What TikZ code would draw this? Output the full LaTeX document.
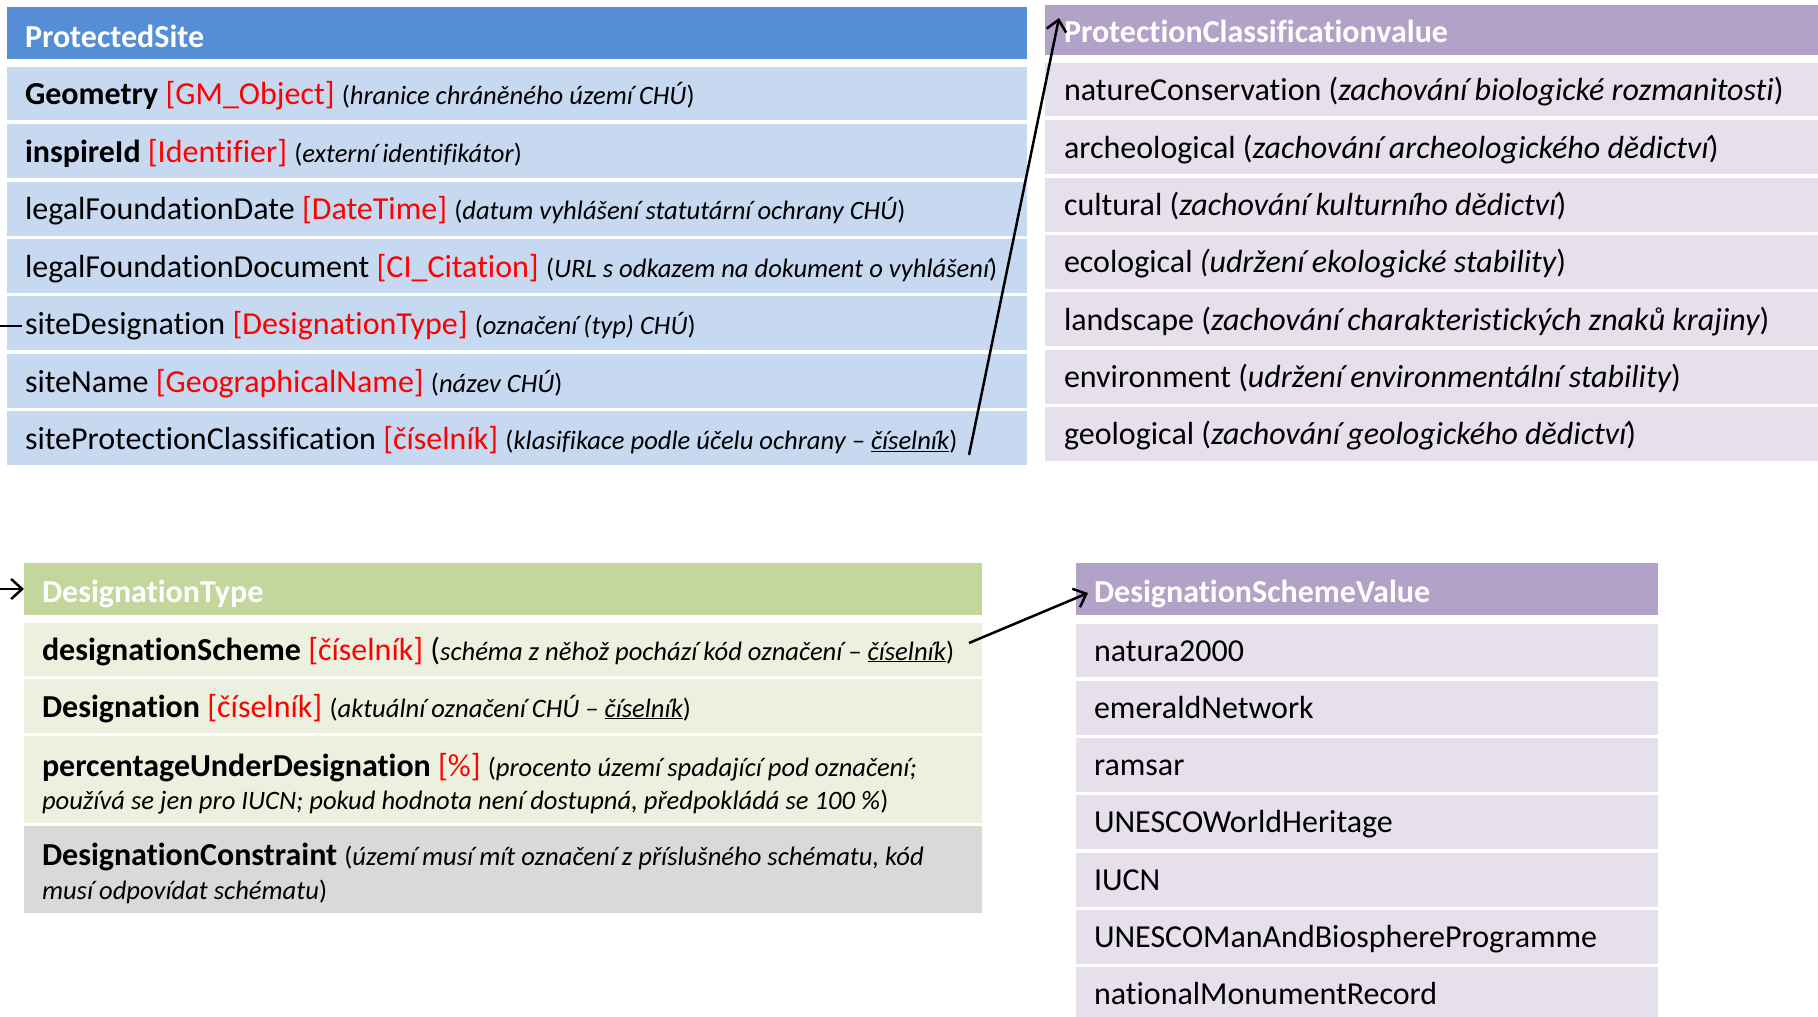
\documentclass[tikz,border=0pt]{standalone}
\usepackage{fontspec}
\setmainfont{Carlito}[Ligatures={NoCommon}]
\usetikzlibrary{arrows.meta}
\definecolor{psHead}{HTML}{558ED5}
\definecolor{psRow}{HTML}{C6D9F1}
\definecolor{puHead}{HTML}{B3A2C7}
\definecolor{puRow}{HTML}{E5E0EC}
\definecolor{grHead}{HTML}{C3D69B}
\definecolor{grRow}{HTML}{EBF1DE}
\definecolor{gyRow}{HTML}{D9D9D9}
\definecolor{redtxt}{HTML}{FF0000}
\newcommand\mainsz{\fontsize{32}{38}\selectfont}
\newcommand\cmtsz{\fontsize{26.6}{30}\selectfont}
\newcommand\rd[1]{\textcolor{redtxt}{#1}}
\newcommand\cmt[1]{{\cmtsz({\itshape #1})}}
\newcommand\cmti[1]{{\cmtsz\itshape #1}}
\newcommand\ita[1]{{\itshape #1}}
\begin{document}
\begin{tikzpicture}[x=1pt,y=-1pt,
  bx/.style={anchor=north west, inner sep=0pt, outer sep=0pt, draw=none},
  tx/.style={anchor=base west, inner sep=0pt, outer sep=0pt, font=\mainsz},
  ttl/.style={tx, text=white, font=\mainsz\bfseries},
  conn/.style={line width=2.5pt, -{Straight Barb[length=11pt,width=20pt,line width=2.5pt]}}]
\useasboundingbox (0,0) rectangle (1818,1017);

% ---------------- ProtectedSite ----------------
\node[bx, fill=psHead, minimum width=1020pt, minimum height=52pt] (psH) at (7,7) {};
\node[ttl] (psT) at (25,47) {ProtectedSite};
\node[bx, fill=psRow, minimum width=1020pt, minimum height=53pt] (ps1) at (7,67) {};
\node[bx, fill=psRow, minimum width=1020pt, minimum height=54pt] (ps2) at (7,124.3) {};
\node[bx, fill=psRow, minimum width=1020pt, minimum height=54pt] (ps3) at (7,181.7) {};
\node[bx, fill=psRow, minimum width=1020pt, minimum height=54pt] (ps4) at (7,239) {};
\node[bx, fill=psRow, minimum width=1020pt, minimum height=54pt] (ps5) at (7,296.3) {};
\node[bx, fill=psRow, minimum width=1020pt, minimum height=54pt] (ps6) at (7,353.7) {};
\node[bx, fill=psRow, minimum width=1020pt, minimum height=54pt] (ps7) at (7,411) {};
\node[tx] (ps1t) at (25,104.5) {\textbf{Geometry} \rd{[GM\_Object]} \cmt{hranice chráněného území CHÚ}};
\node[tx] (ps2t) at (25,162) {\textbf{inspireId} \rd{[Identifier]} \cmt{externí identifikátor}};
\node[tx] (ps3t) at (25,219.5) {legalFoundationDate \rd{[DateTime]} \cmt{datum vyhlášení statutární ochrany CHÚ}};
\node[tx] (ps4t) at (25,277) {legalFoundationDocument \rd{[CI\_Citation]} \cmt{URL s odkazem na dokument o vyhlášení}};
\node[tx] (ps5t) at (25,334.5) {siteDesignation \rd{[DesignationType]} \cmt{označení (typ) CHÚ}};
\node[tx] (ps6t) at (25,392) {siteName \rd{[GeographicalName]} \cmt{název CHÚ}};
\node[tx] (ps7t) at (25,449.5) {siteProtectionClassification \rd{[číselník]} {\cmtsz({\itshape klasifikace podle účelu ochrany – \underline{číselník}})}};

% ---------------- ProtectionClassificationvalue ----------------
\node[bx, fill=puHead, minimum width=773pt, minimum height=50pt] (pcH) at (1045,5) {};
\node[ttl] (pcT) at (1064,42) {ProtectionClassificationvalue};
\node[bx, fill=puRow, minimum width=773pt, minimum height=53pt] (pc1) at (1045,63) {};
\node[bx, fill=puRow, minimum width=773pt, minimum height=54pt] (pc2) at (1045,120.3) {};
\node[bx, fill=puRow, minimum width=773pt, minimum height=54pt] (pc3) at (1045,177.6) {};
\node[bx, fill=puRow, minimum width=773pt, minimum height=54pt] (pc4) at (1045,234.9) {};
\node[bx, fill=puRow, minimum width=773pt, minimum height=54pt] (pc5) at (1045,292.2) {};
\node[bx, fill=puRow, minimum width=773pt, minimum height=54pt] (pc6) at (1045,349.5) {};
\node[bx, fill=puRow, minimum width=773pt, minimum height=54pt] (pc7) at (1045,406.8) {};
\node[tx] (pc1t) at (1064,100) {natureConservation (\ita{zachování biologické rozmanitosti})};
\node[tx] (pc2t) at (1064,158.3) {archeological (\ita{zachování archeologického dědictví})};
\node[tx] (pc3t) at (1064,215.6) {cultural (\ita{zachování kulturního dědictví})};
\node[tx] (pc4t) at (1064,272.9) {ecological \ita{(udržení ekologické stability})};
\node[tx] (pc5t) at (1064,330.2) {landscape (\ita{zachování charakteristických znaků krajiny})};
\node[tx] (pc6t) at (1064,387.5) {environment (\ita{udržení environmentální stability})};
\node[tx] (pc7t) at (1064,444.8) {geological (\ita{zachování geologického dědictví})};

% ---------------- DesignationType ----------------
\node[bx, fill=grHead, minimum width=958pt, minimum height=52pt] (dtH) at (24,563) {};
\node[ttl] (dtT) at (42,602) {DesignationType};
\node[bx, fill=grRow, minimum width=958pt, minimum height=53pt] (dt1) at (24,623) {};
\node[bx, fill=grRow, minimum width=958pt, minimum height=54pt] (dt2) at (24,679) {};
\node[bx, fill=grRow, minimum width=958pt, minimum height=87pt] (dt3) at (24,736) {};
\node[bx, fill=gyRow, minimum width=958pt, minimum height=87pt] (dt4) at (24,826) {};
\node[tx] (dt1t) at (42,660) {\textbf{designationScheme} \rd{[číselník]} (\cmti{schéma z něhož pochází kód označení – \underline{číselník}}{\cmtsz)}};
\node[tx] (dt2t) at (42,717) {\textbf{Designation} \rd{[číselník]} {\cmtsz({\itshape aktuální označení CHÚ – \underline{číselník}})}};
\node[tx] (dt3t) at (42,776) {\textbf{percentageUnderDesignation} \rd{[\%]} {\cmtsz({\itshape procento území spadající pod označení;}}};
\node[tx] (dt3u) at (42,809) {\cmti{používá se jen pro IUCN; pokud hodnota není dostupná, předpokládá se 100 \%}{\cmtsz)}};
\node[tx] (dt4t) at (42,865) {\textbf{DesignationConstraint} {\cmtsz({\itshape území musí mít označení z příslušného schématu, kód}}};
\node[tx] (dt4u) at (42,899) {\cmti{musí odpovídat schématu}{\cmtsz)}};

% ---------------- DesignationSchemeValue ----------------
\node[bx, fill=puHead, minimum width=582pt, minimum height=52pt] (dsH) at (1076,563) {};
\node[ttl] (dsT) at (1094,602) {DesignationSchemeValue};
\node[bx, fill=puRow, minimum width=582pt, minimum height=53pt] (ds1) at (1076,623.5) {};
\node[bx, fill=puRow, minimum width=582pt, minimum height=54pt] (ds2) at (1076,680.8) {};
\node[bx, fill=puRow, minimum width=582pt, minimum height=54pt] (ds3) at (1076,738.1) {};
\node[bx, fill=puRow, minimum width=582pt, minimum height=54pt] (ds4) at (1076,795.4) {};
\node[bx, fill=puRow, minimum width=582pt, minimum height=54pt] (ds5) at (1076,852.7) {};
\node[bx, fill=puRow, minimum width=582pt, minimum height=54pt] (ds6) at (1076,910) {};
\node[bx, fill=puRow, minimum width=582pt, minimum height=49.7pt] (ds7) at (1076,967.3) {};
\node[tx] (ds1t) at (1094,661) {natura2000};
\node[tx] (ds2t) at (1094,718.3) {emeraldNetwork};
\node[tx] (ds3t) at (1094,775.6) {ramsar};
\node[tx] (ds4t) at (1094,832.9) {UNESCOWorldHeritage};
\node[tx] (ds5t) at (1094,890.2) {IUCN};
\node[tx] (ds6t) at (1094,947.5) {UNESCOManAndBiosphereProgramme};
\node[tx] (ds7t) at (1094,1004.8) {nationalMonumentRecord};

% ---------------- connectors ----------------
\coordinate (c1s) at (969,455);
\coordinate (c1e) at (1059,18);
\draw[conn] (c1s) -- (c1e);
\coordinate (c2s) at (969,643);
\coordinate (c2e) at (1088,593);
\draw[conn] (c2s) -- (c2e);
\coordinate (c3s) at (22,326);
\draw[conn] (c3s) -- (-30,326) |- (dtH.west);
\end{tikzpicture}
\end{document}
